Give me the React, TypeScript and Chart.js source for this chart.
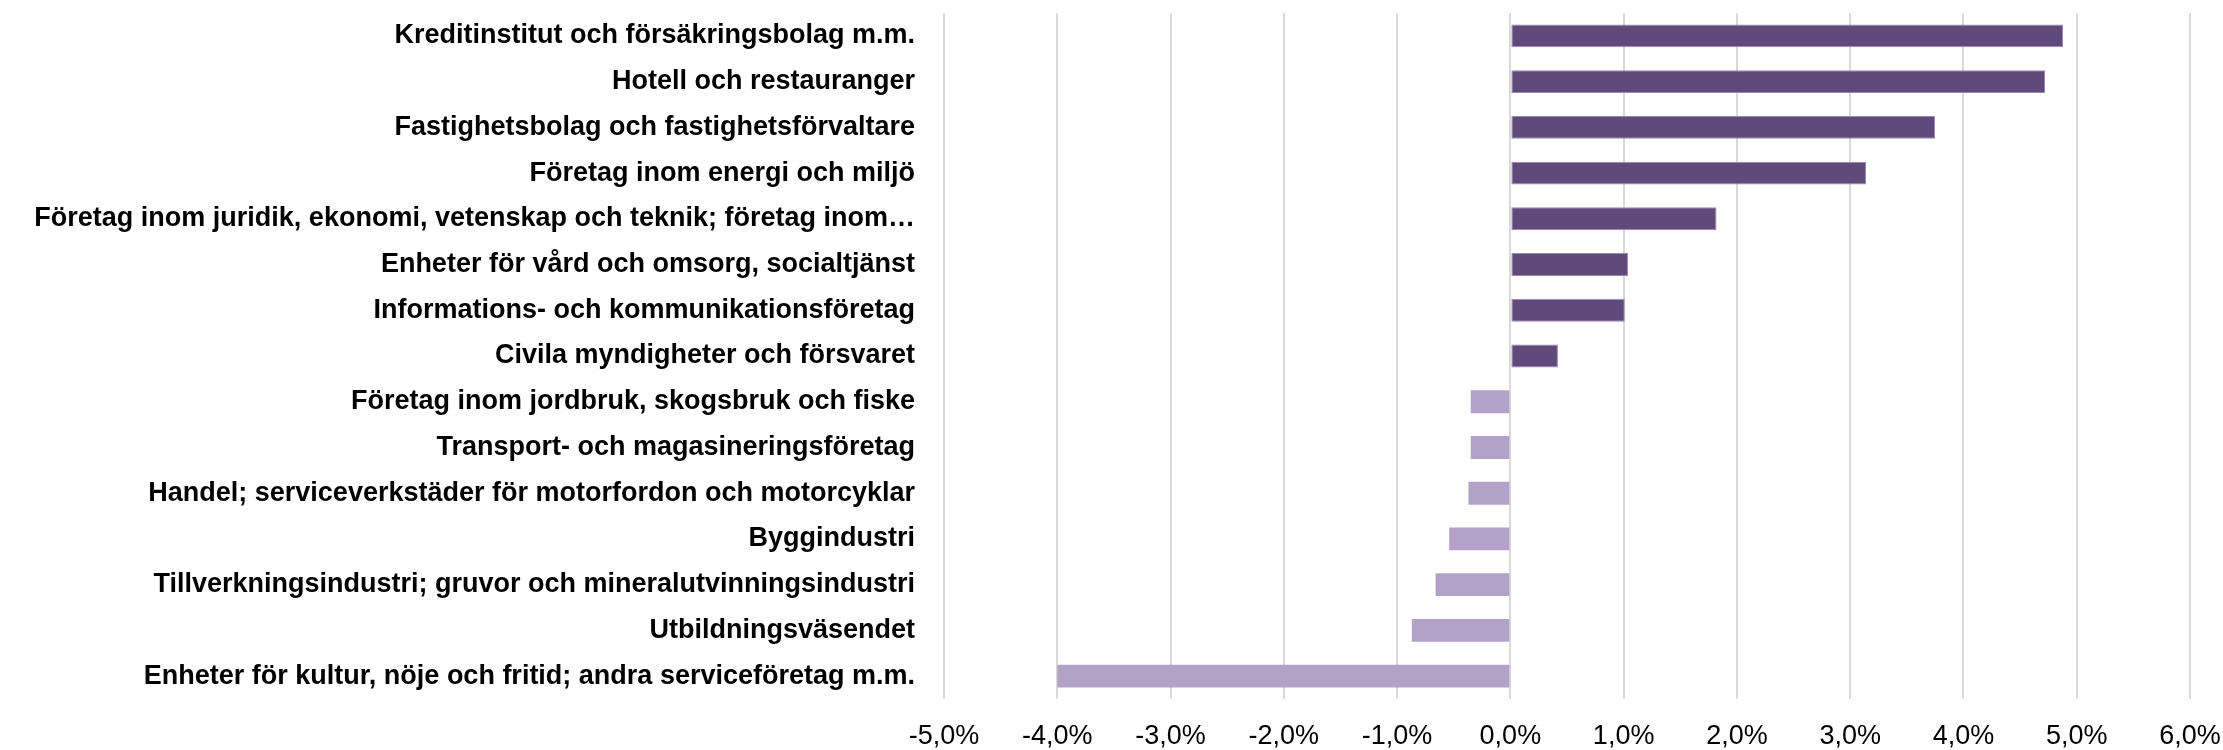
import React, { useEffect, useRef } from "react";
import { Chart, registerables } from "chart.js";

Chart.register(...registerables);

const categories: string[] = [
  "Kreditinstitut och försäkringsbolag m.m.",
  "Hotell och restauranger",
  "Fastighetsbolag och fastighetsförvaltare",
  "Företag inom energi och miljö",
  "Företag inom juridik, ekonomi, vetenskap och teknik; företag inom…",
  "Enheter för vård och omsorg, socialtjänst",
  "Informations- och kommunikationsföretag",
  "Civila myndigheter och försvaret",
  "Företag inom jordbruk, skogsbruk och fiske",
  "Transport- och magasineringsföretag",
  "Handel; serviceverkstäder för motorfordon och motorcyklar",
  "Byggindustri",
  "Tillverkningsindustri; gruvor och mineralutvinningsindustri",
  "Utbildningsväsendet",
  "Enheter för kultur, nöje och fritid; andra serviceföretag m.m.",
];

const values: number[] = [
  4.88, 4.72, 3.75, 3.14, 1.82, 1.04, 1.01, 0.42, -0.35, -0.35, -0.37, -0.54,
  -0.66, -0.87, -4.0,
];

const xMin = -5;
const xMax = 6;
const xStep = 1;

const POS_COLOR = "#604A7B";
const NEG_COLOR = "#B3A2C7";

export default function App() {
  const canvasRef = useRef<HTMLCanvasElement | null>(null);

  useEffect(() => {
    document.body.style.margin = "0";
    const canvas = canvasRef.current;
    if (!canvas) return;
    const chart = new Chart(canvas, {
      type: "bar",
      data: {
        labels: categories,
        datasets: [
          {
            data: values,
            backgroundColor: values.map((v) => (v >= 0 ? POS_COLOR : NEG_COLOR)),
            borderColor: values.map((v) => (v >= 0 ? "#9A88B5" : NEG_COLOR)),
            borderWidth: values.map((v) => (v >= 0 ? 1 : 0)),
            borderSkipped: false,
            categoryPercentage: 1,
            barPercentage: 0.5,
          },
        ],
      },
      options: {
        indexAxis: "y",
        animation: false,
        responsive: false,
        maintainAspectRatio: false,
        layout: { padding: { top: 13, bottom: 0, left: 0, right: 0 } },
        plugins: {
          legend: { display: false },
          tooltip: { enabled: false },
        },
        scales: {
          x: {
            min: xMin,
            max: xMax,
            grid: {
              color: "#D9D9D9",
              lineWidth: 2,
              drawTicks: false,
            },
            border: { display: false },
            ticks: {
              stepSize: xStep,
              padding: 21,
              color: "#000",
              maxRotation: 0,
              font: { family: "'Liberation Sans', sans-serif", size: 27 },
              callback: (v: any) => Number(v).toFixed(1).replace(".", ",") + "%",
            },
            afterFit: (scale: any) => {
              scale.height = 51;
              scale.paddingLeft = 0;
              scale.paddingRight = 33;
            },
          },
          y: {
            grid: { display: false, drawTicks: false },
            border: { display: false },
            ticks: {
              padding: 29,
              color: "#000",
              autoSkip: false,
              font: { family: "'Liberation Sans', sans-serif", size: 27, weight: "bold" },
            },
            afterFit: (scale: any) => {
              scale.width = 944;
              scale.paddingTop = 0;
              scale.paddingBottom = 0;
            },
          },
        },
      },
    });
    return () => chart.destroy();
  }, []);

  return (
    <div style={{ width: 2223, height: 750 }}>
      <canvas ref={canvasRef} width={2223} height={750} style={{ display: "block" }} />
    </div>
  );
}
